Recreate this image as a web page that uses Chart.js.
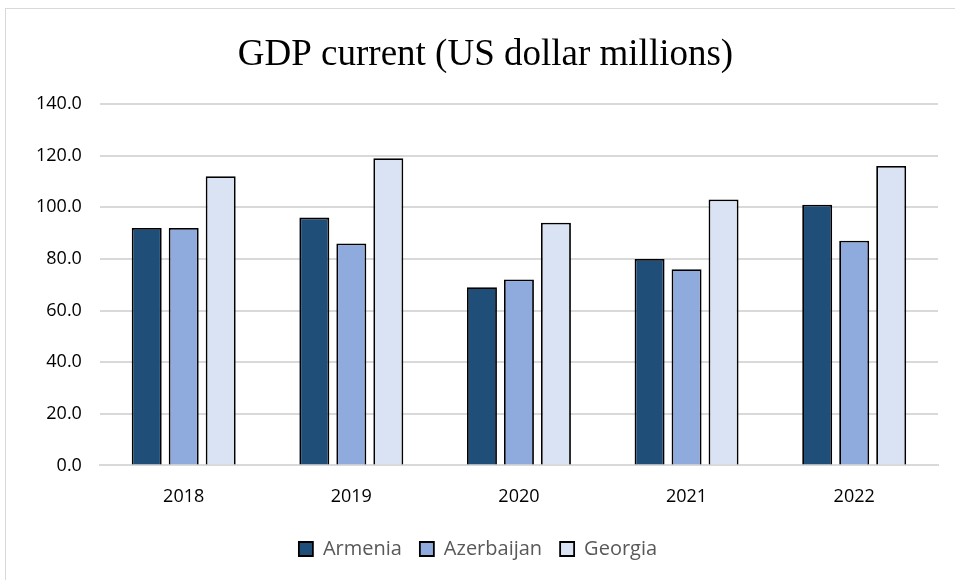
<!DOCTYPE html>
<html>
<head>
<meta charset="utf-8">
<script src="https://cdn.jsdelivr.net/npm/chart.js@4"></script>
<style>
  html, body { margin: 0; padding: 0; background: #fff; }
  #frame { position: absolute; left: 5px; top: 8px; width: 960px; height: 590px; border: 1px solid #d9d9d9; box-sizing: border-box; }
  #wrap { position: absolute; left: 0; top: 0; width: 955px; height: 580px; }
</style>
</head>
<body>
<div id="frame"></div>
<div id="wrap"><canvas id="gdpChart" width="955" height="580"></canvas></div>
<script>
const years = ['2018', '2019', '2020', '2021', '2022'];
const armenia = [92, 96, 69, 80, 101];
const azerbaijan = [92, 86, 72, 76, 87];
const georgia = [112, 119, 94, 103, 116];
const yTicks = [0, 20, 40, 60, 80, 100, 120, 140];
const chartTitle = 'GDP current (US dollar millions)';

const bar = (label, data, color) => ({
  label, data,
  backgroundColor: color,
  borderColor: '#000',
  borderWidth: 1.8,
  categoryPercentage: 0.662,
  barPercentage: 0.81
});

// title sits a little right of the canvas centre, so draw it by hand
const titlePlugin = {
  id: 'serifTitle',
  afterDraw(chart) {
    const ctx = chart.ctx;
    ctx.save();
    ctx.font = '37px "Liberation Serif", "Times New Roman", serif';
    ctx.fillStyle = '#000';
    ctx.textAlign = 'center';
    ctx.textBaseline = 'alphabetic';
    ctx.fillText(chartTitle, chart.width / 2 + 8, 65);
    ctx.restore();
  }
};

new Chart(document.getElementById('gdpChart'), {
  type: 'bar',
  data: {
    labels: years,
    datasets: [
      bar('Armenia', armenia, '#1f4e79'),
      bar('Azerbaijan', azerbaijan, '#8faadc'),
      bar('Georgia', georgia, '#dae3f3')
    ]
  },
  plugins: [titlePlugin],
  options: {
    responsive: false,
    animation: false,
    layout: { padding: { left: 18, right: 17, top: 104, bottom: 11 } },
    plugins: {
      tooltip: { enabled: false },
      title: { display: false },
      legend: {
        position: 'bottom',
        labels: {
          boxWidth: 14,
          boxHeight: 14,
          padding: 18,
          color: '#595959',
          font: { family: '"Open Sans", sans-serif', size: 20 }
        }
      }
    },
    scales: {
      x: {
        grid: { display: false },
        border: { color: '#d9d9d9', width: 2 },
        ticks: { color: '#000', padding: 13, font: { family: '"Open Sans", sans-serif', size: 18 } }
      },
      y: {
        min: 0,
        max: 140,
        afterBuildTicks: (axis) => { axis.ticks = yTicks.map(v => ({ value: v })); },
        grid: { color: '#d9d9d9', lineWidth: 2, drawTicks: false },
        border: { display: false },
        ticks: {
          color: '#000',
          padding: 18,
          font: { family: '"Open Sans", sans-serif', size: 18 },
          callback: (v) => Number(v).toFixed(1)
        }
      }
    }
  }
});
</script>
</body>
</html>
